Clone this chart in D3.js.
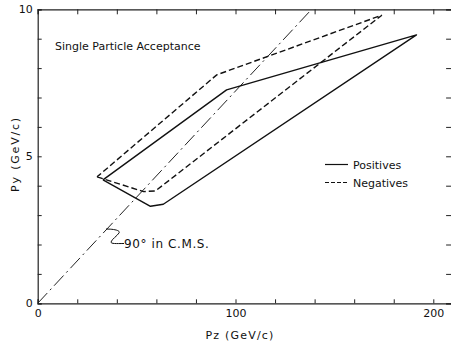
<!DOCTYPE html>
<html>
<head>
<meta charset="utf-8">
<script src="https://cdn.jsdelivr.net/npm/d3@7"></script>
<style>
  body { margin: 0; background: #fff; }
  text { font-family: "DejaVu Sans", sans-serif; fill: #111; }
</style>
</head>
<body>
<div id="chart"></div>
<script>
// values (Pz in GeV/c, Py in GeV/c)
let positivesPz = [33, 57, 63.5, 191.5, 95.5, 33];
let positivesPy = [4.2, 3.3, 3.37, 9.13, 7.26, 4.2];
let negativesPz = [30, 53.5, 59.5, 174, 90.5, 30];
let negativesPy = [4.3, 3.8, 3.82, 9.8, 7.77, 4.3];
let cmsPz = [0, 138.5];
let cmsPy = [0, 10];
let xTicks = [0, 20, 40, 60, 80, 100, 120, 140, 160, 180, 200];
let xLabels = [0, 100, 200];
let yTicks = [0, 1, 2, 3, 4, 5, 6, 7, 8, 9, 10];
let yLabels = [0, 5, 10];

let w = 451, h = 344;
let m = {top: 9.3, left: 37.7, bottom: 40.7};

let svg = d3.select("#chart")
    .append("svg")
    .attr("width", w)
    .attr("height", h);

let x = d3.scaleLinear().domain([0, 209]).range([m.left, m.left + 209 * 1.978]);
let y = d3.scaleLinear().domain([0, 10]).range([h - m.bottom, m.top]);

let fmt = (d) => xLabels.includes(d) ? d : "";
let fmtY = (d) => yLabels.includes(d) ? d : "";

// frame with inward ticks
svg.append("g")
    .attr("transform", `translate(0,${y(0)})`)
    .call(d3.axisBottom(x).tickValues(xTicks).tickSize(-4).tickPadding(6).tickFormat(fmt));
svg.append("g")
    .attr("transform", `translate(0,${y(10)})`)
    .call(d3.axisTop(x).tickValues(xTicks).tickSize(-5).tickFormat(""));
svg.append("g")
    .attr("transform", `translate(${x(0)},0)`)
    .call(d3.axisLeft(y).tickValues(yTicks).tickSize(-4).tickPadding(5).tickFormat(fmtY));
svg.append("g")
    .attr("transform", `translate(${x(209)},0)`)
    .call(d3.axisRight(y).tickValues(yTicks).tickSize(-5).tickFormat(""));

svg.selectAll(".domain").attr("stroke", "#222").attr("stroke-width", 1.2);
svg.selectAll(".tick line").attr("stroke", "#222").attr("stroke-width", 1);
svg.selectAll(".tick text").style("font-size", "11px").attr("fill", "#111");

let line = d3.line()
    .x((d) => x(d[0]))
    .y((d) => y(d[1]));

let pos = d3.zip(positivesPz, positivesPy);
let neg = d3.zip(negativesPz, negativesPy);
let cms = d3.zip(cmsPz, cmsPy);

svg.append("path")
    .datum(cms)
    .attr("d", line)
    .attr("fill", "none")
    .attr("stroke", "#222")
    .attr("stroke-width", 1)
    .attr("stroke-dasharray", "14,4,2,4");

svg.append("path")
    .datum(pos)
    .attr("d", line)
    .attr("fill", "none")
    .attr("stroke", "#111")
    .attr("stroke-width", 1.4)
    .attr("stroke-linejoin", "round");

svg.append("path")
    .datum(neg)
    .attr("d", line)
    .attr("fill", "none")
    .attr("stroke", "#111")
    .attr("stroke-width", 1.4)
    .attr("stroke-dasharray", "6,3");

// legend
let legend = [
    {name: "Positives", dash: null, yy: 164.5},
    {name: "Negatives", dash: "4,2", yy: 182.5}
];
legend.forEach((l) => {
    svg.append("line")
        .attr("x1", 325).attr("x2", 348)
        .attr("y1", l.yy).attr("y2", l.yy)
        .attr("stroke", "#111")
        .attr("stroke-width", 1.2)
        .attr("stroke-dasharray", l.dash);
    svg.append("text")
        .attr("x", 353).attr("y", l.yy + 4)
        .style("font-size", "11px")
        .text(l.name);
});

// title inside the plot
svg.append("text")
    .attr("x", 55).attr("y", 50)
    .style("font-size", "11px")
    .text("Single Particle Acceptance");

// annotation for the c.m.s. line
svg.append("path")
    .attr("d", "M106,229 C112,229 121,230 119,233 C117,236 112,239 111,242 C111,244 116,243.5 124,243.5")
    .attr("fill", "none")
    .attr("stroke", "#111")
    .attr("stroke-width", 1);
svg.append("text")
    .attr("x", 124).attr("y", 248)
    .style("font-size", "12px")
    .style("letter-spacing", "0.6px")
    .text("90° in C.M.S.");

// axis titles
svg.append("text")
    .attr("x", 240).attr("y", 339)
    .attr("text-anchor", "middle")
    .style("font-size", "11px")
    .style("letter-spacing", "1.2px")
    .text("Pz  (GeV/c)");

svg.append("text")
    .attr("transform", "translate(19,154) rotate(-90)")
    .attr("text-anchor", "middle")
    .style("font-size", "11px")
    .style("letter-spacing", "1.8px")
    .text("Py  (GeV/c)");
</script>
</body>
</html>
